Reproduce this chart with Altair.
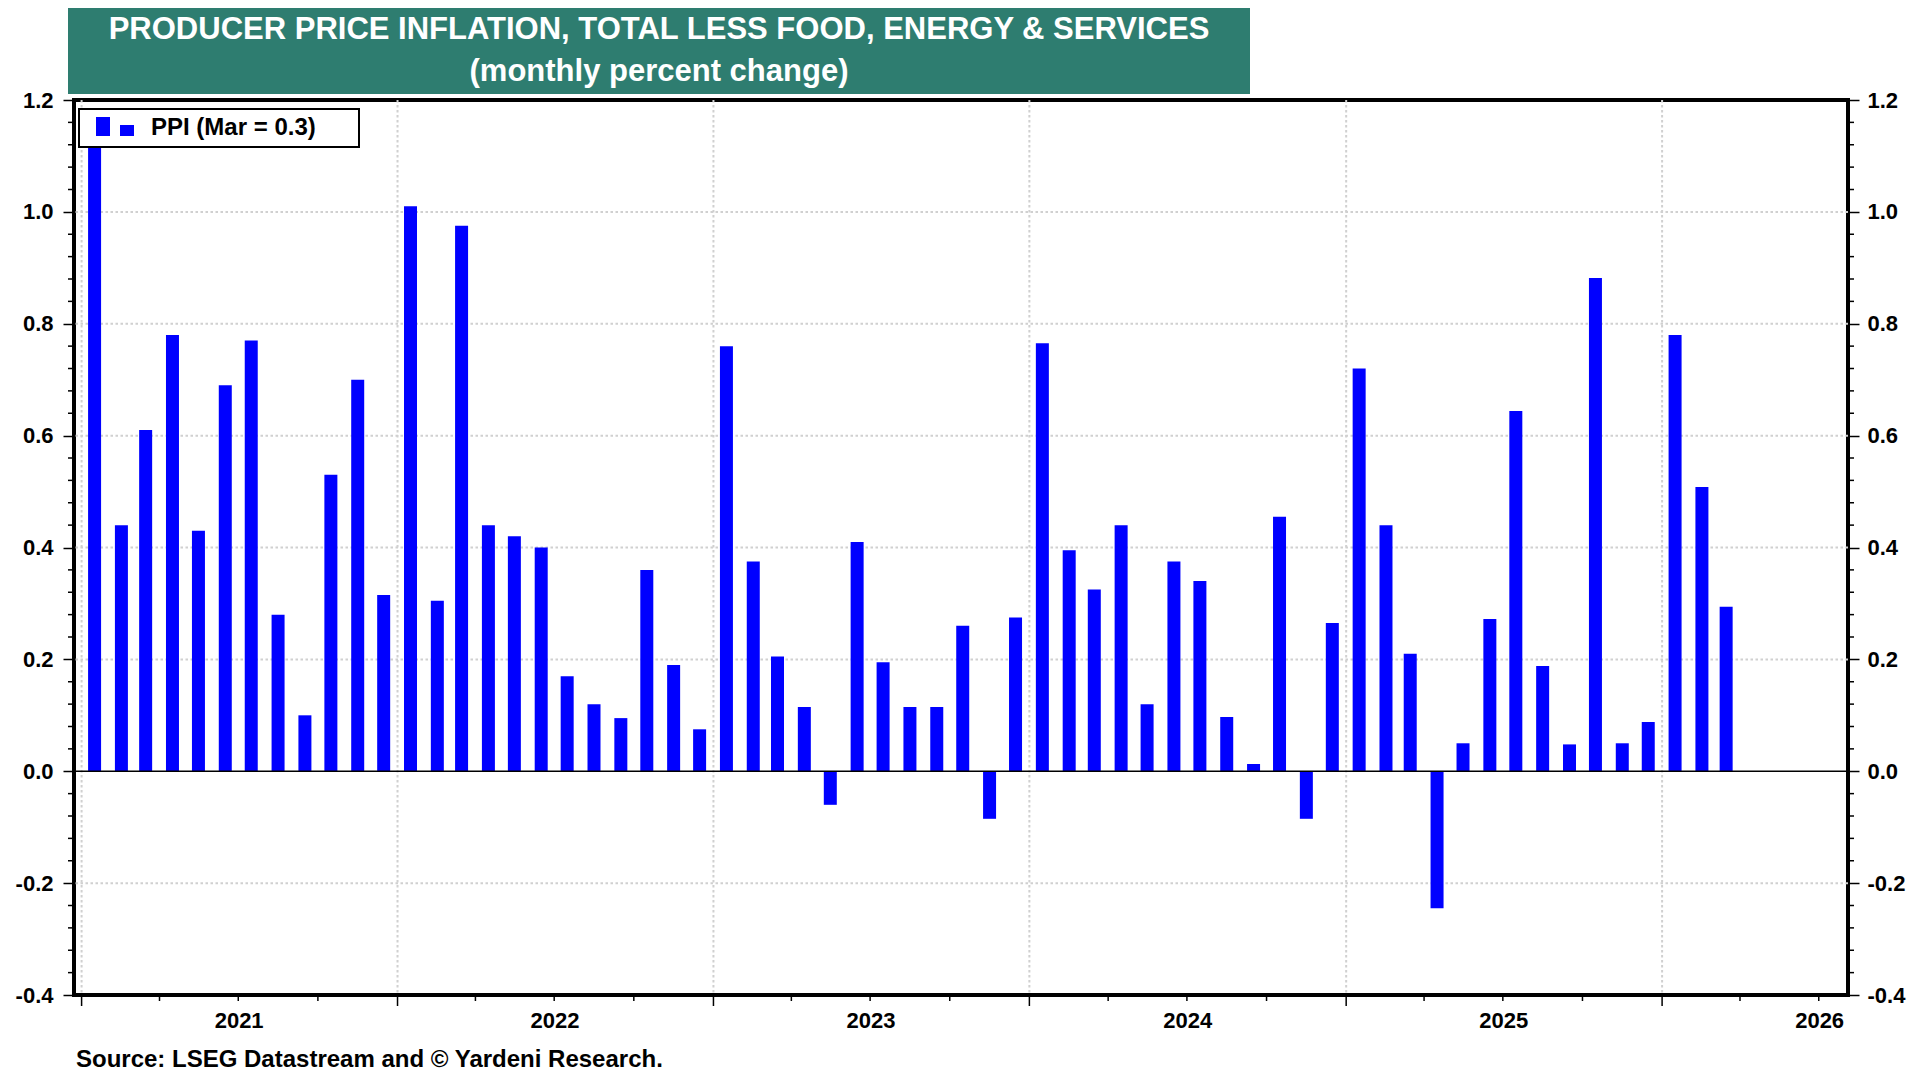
import altair as alt
import pandas as pd

# ---------------- data ----------------
ppi = [
    1.15, 0.44, 0.61, 0.78, 0.43, 0.69, 0.77, 0.28, 0.10, 0.53, 0.70, 0.315,    # 2021
    1.01, 0.305, 0.975, 0.44, 0.42, 0.40, 0.17, 0.12, 0.095, 0.36, 0.19, 0.075,  # 2022
    0.76, 0.375, 0.205, 0.115, -0.06, 0.41, 0.195, 0.115, 0.115, 0.26, -0.085, 0.275,  # 2023
    0.765, 0.395, 0.325, 0.44, 0.12, 0.375, 0.34, 0.097, 0.013, 0.455, -0.085, 0.265,  # 2024
    0.72, 0.44, 0.21, -0.245, 0.05, 0.272, 0.644, 0.188, 0.048, 0.882, 0.05, 0.088,    # 2025
    0.78, 0.508, 0.294,                                                              # 2026
]
first_month = "2021-01-01"
year_ticks = [2021, 2022, 2023, 2024, 2025, 2026]
y_major = [-0.4, -0.2, 0.0, 0.2, 0.4, 0.6, 0.8, 1.0, 1.2]
y_grid = [-0.2, 0.2, 0.4, 0.6, 0.8, 1.0]
y_minor = [round(k * 0.04, 2) for k in range(-10, 31) if k % 5 != 0]
quarter_ticks = [f"{y}-{m:02d}-01" for y in year_ticks for m in (4, 7, 10)
                 if not (y == 2026 and m == 10)]
x_domain = ["2020-12-29", "2026-07-29"]
title_lines = ["PRODUCER PRICE INFLATION, TOTAL LESS FOOD, ENERGY & SERVICES",
               "(monthly percent change)"]
source_text = "Source: LSEG Datastream and \u00a9 Yardeni Research."
legend_label = f"PPI (Mar = {ppi[-1]:.1f})"

months = pd.date_range(first_month, periods=len(ppi), freq="MS")
bar_dates = [(m + pd.Timedelta(days=15)).strftime("%Y-%m-%d") for m in months]
df = pd.DataFrame({"date": bar_dates, "ppi": ppi})
years_df = pd.DataFrame({
    "start": [f"{y}-01-01" for y in year_ticks],
    "mid": [f"{y}-07-02" for y in year_ticks],
    "label": [str(y) for y in year_ticks],
})


def ms(s):
    return int(pd.Timestamp(s, tz="UTC").value // 10**6)


# ---------------- styling ----------------
W, H = 1774, 895
FONT = "Liberation Sans"
BLUE = "#0000FF"
TEAL = "#2E7D70"
GRID_STYLE = dict(color="#D0D0D0", strokeDash=[2.5, 2.5], strokeWidth=2)

xscale = alt.Scale(type="utc", domain=[ms(d) for d in x_domain])
yscale = alt.Scale(domain=[-0.4, 1.2], nice=False)

ylab = "replace(format(datum.value, '.1f'), '\u2212', '-')"
y_axis_left = alt.Axis(
    orient="left", values=y_major, labelExpr=ylab,
    labelFont=FONT, labelFontSize=22, labelFontWeight="bold", labelColor="black",
    labelPadding=10, tickSize=11, tickWidth=1.5, tickColor="black",
    domain=False, grid=False, title=None,
)
y_axis_right = alt.Axis(
    orient="right", values=y_major, labelExpr=ylab,
    labelFont=FONT, labelFontSize=22, labelFontWeight="bold", labelColor="black",
    labelPadding=8, tickSize=11, tickWidth=1.5, tickColor="black",
    domain=False, grid=False, title=None,
)

# grid lines (dotted)
y_grid_layer = alt.Chart(pd.DataFrame({"g": y_grid})).mark_rule(**GRID_STYLE).encode(
    y=alt.Y("g:Q", scale=yscale, axis=None)
)
x_grid_layer = alt.Chart(years_df).mark_rule(**GRID_STYLE).encode(
    x=alt.X("start:T", scale=xscale, axis=None)
)

bars = alt.Chart(df).mark_bar(color=BLUE, size=13).encode(
    x=alt.X("date:T", scale=xscale, axis=None),
    y=alt.Y("ppi:Q", scale=yscale, axis=y_axis_left),
)

zero = alt.Chart(pd.DataFrame({"z": [0.0]})).mark_rule(color="black", strokeWidth=1.5).encode(
    y=alt.Y("z:Q", scale=yscale, axis=None)
)

minor_df = pd.DataFrame({"v": y_minor})
left_minor = alt.Chart(minor_df).mark_rule(color="black", strokeWidth=1.5).encode(
    y=alt.Y("v:Q", scale=yscale, axis=None), x=alt.value(-6), x2=alt.value(0)
)
right_minor = alt.Chart(minor_df).mark_rule(color="black", strokeWidth=1.5).encode(
    y=alt.Y("v:Q", scale=yscale, axis=y_axis_right), x=alt.value(W), x2=alt.value(W + 6)
)
q_rules = alt.Chart(pd.DataFrame({"d": quarter_ticks})).mark_rule(color="black", strokeWidth=1.5).encode(
    x=alt.X("d:T", scale=xscale, axis=None), y=alt.value(H), y2=alt.value(H + 6)
)
year_rules = alt.Chart(years_df).mark_rule(color="black", strokeWidth=1.5).encode(
    x=alt.X("start:T", scale=xscale, axis=None), y=alt.value(H), y2=alt.value(H + 11)
)
year_labels = alt.Chart(years_df).mark_text(
    font=FONT, fontSize=22, fontWeight="bold", color="black",
    align="center", baseline="alphabetic",
).encode(
    x=alt.X("mid:T", scale=xscale, axis=None), y=alt.value(H + 33), text="label:N"
)

one = pd.DataFrame({"k": [0]})
title_box = alt.Chart(one).mark_rect(fill=TEAL).encode(
    x=alt.value(-6), x2=alt.value(1176), y=alt.value(-95), y2=alt.value(-6)
)
title1 = alt.Chart(one).mark_text(
    text=title_lines[0], font=FONT, fontSize=31, fontWeight="bold", color="white",
    align="center", baseline="alphabetic",
).encode(x=alt.value(585), y=alt.value(-61))
title2 = alt.Chart(one).mark_text(
    text=title_lines[1], font=FONT, fontSize=31, fontWeight="bold", color="white",
    align="center", baseline="alphabetic",
).encode(x=alt.value(585), y=alt.value(-19))

legend_box = alt.Chart(one).mark_rect(fill="white", stroke="black", strokeWidth=2).encode(
    x=alt.value(5), x2=alt.value(285), y=alt.value(9), y2=alt.value(47)
)
sym_tall = alt.Chart(one).mark_rect(fill=BLUE).encode(
    x=alt.value(22), x2=alt.value(36), y=alt.value(17), y2=alt.value(36)
)
sym_short = alt.Chart(one).mark_rect(fill=BLUE).encode(
    x=alt.value(46), x2=alt.value(60), y=alt.value(25), y2=alt.value(36)
)
legend_text = alt.Chart(one).mark_text(
    text=legend_label, font=FONT, fontSize=24, fontWeight="bold", color="black",
    align="left", baseline="alphabetic",
).encode(x=alt.value(77), y=alt.value(35))

source = alt.Chart(one).mark_text(
    text=source_text, font=FONT, fontSize=24, fontWeight="bold", color="black",
    align="left", baseline="alphabetic",
).encode(x=alt.value(2), y=alt.value(H + 72))

chart = (
    alt.layer(
        title_box, title1, title2,
        y_grid_layer, x_grid_layer,
        bars, zero, left_minor, right_minor, q_rules, year_rules, year_labels,
        legend_box, sym_tall, sym_short, legend_text, source,
    )
    .resolve_axis(y="independent")
    .properties(
        width=W, height=H,
        autosize=alt.AutoSizeParams(type="none"),
        padding={"left": 66, "top": 92, "right": 62, "bottom": 77},
        background="white",
    )
    .configure_view(stroke="black", strokeWidth=4)
)

chart.save("out.html", embed_options={"renderer": "svg", "actions": False})
